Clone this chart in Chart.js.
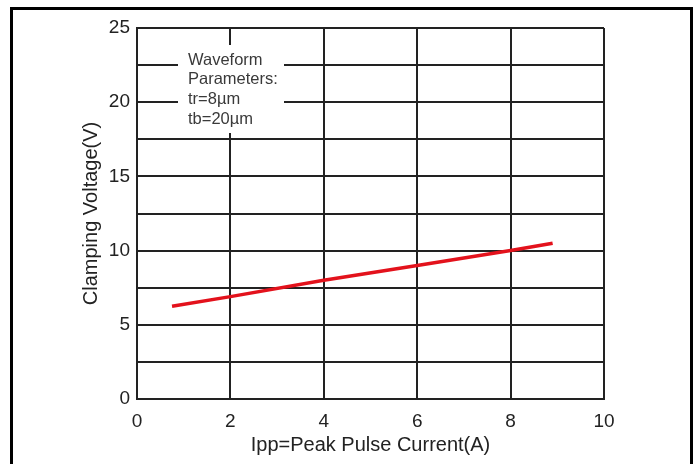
<!DOCTYPE html>
<html lang="en">
<head>
  <meta charset="UTF-8">
  <title>Clamping Voltage vs Peak Pulse Current</title>
  <script src="https://cdn.jsdelivr.net/npm/chart.js"></script>
  <style>
    html, body { margin: 0; padding: 0; background: #fff; }
    .wrap { position: relative; width: 700px; height: 464px; overflow: hidden; }
    .frame {
      position: absolute; left: 10px; top: 7px;
      width: 677px; height: 470px;
      border: 3px solid #000;
    }
    #chart { position: absolute; left: 0; top: 0; }
  </style>
</head>
<body>
  <div class="wrap">
    <div class="frame"></div>
    <canvas id="chart" width="700" height="464"></canvas>
  </div>

  <script>
    // values
    const currentA = [0.75, 2, 4, 6, 8, 8.9];
    const clampV = [6.25, 6.9, 8.0, 9.0, 10.0, 10.5];
    const noteLines = ['Waveform', 'Parameters:', 'tr=8\u00b5m', 'tb=20\u00b5m'];

    const font = '"Liberation Sans", Arial, sans-serif';
    const ink = '#222';

    // white box with the waveform note, sitting over the grid
    const notePlugin = {
      id: 'note',
      beforeDatasetsDraw(chart) {
        const ctx = chart.ctx;
        const a = chart.chartArea;
        ctx.save();
        ctx.fillStyle = '#fff';
        ctx.fillRect(a.left + 41, a.top + 17, 106, 88);
        ctx.fillStyle = '#3a3a3a';
        ctx.font = '16.5px ' + font;
        ctx.textBaseline = 'middle';
        noteLines.forEach((t, i) => {
          ctx.fillText(t, a.left + 51, a.top + 32 + i * 19.8);
        });
        ctx.restore();
      }
    };

    const ctx = document.getElementById('chart');
    new Chart(ctx, {
      type: 'line',
      data: {
        datasets: [{
          data: currentA.map((x, i) => ({ x: x, y: clampV[i] })),
          borderColor: '#e3121c',
          borderWidth: 3.5,
          pointRadius: 0,
          tension: 0,
          fill: false
        }]
      },
      options: {
        responsive: false,
        animation: false,
        layout: { padding: { left: 75, top: 28, right: 96, bottom: 3 } },
        plugins: {
          legend: { display: false },
          tooltip: { enabled: false }
        },
        scales: {
          x: {
            type: 'linear',
            min: 0,
            max: 10,
            afterFit: (s) => { s.height = 62; },
            ticks: {
              stepSize: 2,
              padding: 11,
              color: ink,
              font: { family: font, size: 19 }
            },
            grid: { color: ink, lineWidth: 2, drawTicks: false },
            border: { color: ink, width: 2 },
            title: {
              display: true,
              text: 'Ipp=Peak Pulse Current(A)',
              color: ink,
              font: { family: font, size: 20 }
            }
          },
          y: {
            min: 0,
            max: 25,
            afterFit: (s) => { s.width = 62; },
            ticks: {
              stepSize: 2.5,
              padding: 7,
              color: ink,
              font: { family: font, size: 19 },
              callback: (v) => (v % 5 === 0 ? v : '')
            },
            grid: { color: ink, lineWidth: 2, drawTicks: false },
            border: { color: ink, width: 2 },
            title: {
              display: true,
              text: 'Clamping Voltage(V)',
              color: ink,
              font: { family: font, size: 20 }
            }
          }
        }
      },
      plugins: [notePlugin]
    });
  </script>
</body>
</html>
